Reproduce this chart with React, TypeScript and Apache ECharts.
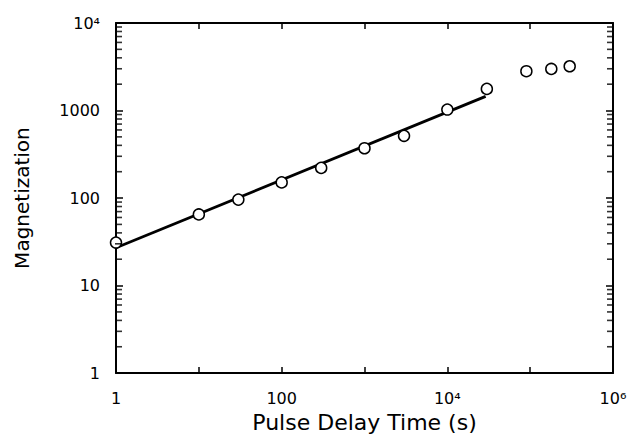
import React, { useEffect, useRef } from "react";
import * as echarts from "echarts";

const delayTime = [1, 10, 30, 100, 300, 1000, 3000, 10000, 30000, 90000, 180000, 300000];
const magnetization = [31, 65, 96, 151, 221, 371, 514, 1026, 1767, 2813, 2987, 3205];
const fitTime = [1, 29000];
const fitMagnetization = [27, 1450];

// minor tick positions of the logarithmic magnetization axis
const yMinorTicks = [
  2, 3, 4, 5, 6, 7, 8, 9,
  20, 30, 40, 50, 60, 70, 80, 90,
  200, 300, 400, 500, 600, 700, 800, 900,
  2000, 3000, 4000, 5000, 6000, 7000, 8000, 9000,
];

const xTitle = "Pulse Delay Time (s)";
const yTitle = "Magnetization";
const sup: Record<string, string> = { "4": "⁴", "6": "⁶" };

const FONT = "DejaVu Sans";
const X_MIN = 1;
const X_MAX = 1e6;

function fmtY(v: number): string {
  const e = Math.round(Math.log10(v));
  if (e >= 4) return "10" + (sup[String(e)] || e);
  return String(Math.round(Math.pow(10, e)));
}
function fmtX(v: number): string {
  const e = Math.round(Math.log10(v));
  if (e % 2 !== 0) return "";
  if (e >= 4) return "10" + (sup[String(e)] || e);
  return String(Math.round(Math.pow(10, e)));
}

export default function App() {
  const ref = useRef<HTMLDivElement>(null);
  useEffect(() => {
    if (!ref.current) return;
    const chart = echarts.init(ref.current, undefined, { renderer: "svg" });
    const axisLine = { show: true, lineStyle: { color: "#000", width: 2 } };
    const baseX = {
      type: "log" as const,
      logBase: 10,
      min: X_MIN,
      max: X_MAX,
      splitNumber: 6,
      axisLine,
      splitLine: { show: false },
      axisTick: { show: true, inside: true, length: 6, lineStyle: { color: "#000", width: 1.5 } },
    };
    const baseY = {
      type: "log" as const,
      logBase: 10,
      min: 1,
      max: 1e4,
      splitNumber: 4,
      axisLine,
      splitLine: { show: false },
      axisTick: { show: true, inside: true, length: 7, lineStyle: { color: "#000", width: 1.5 } },
    };
    const minorTickSeries = (xv: number, dir: number) => ({
      type: "scatter",
      data: yMinorTicks.map((v) => [xv, v]),
      symbol: "rect",
      symbolSize: [7, 1.6],
      symbolOffset: [2.5 * dir, 0],
      clip: false,
      silent: true,
      itemStyle: { color: "#000", borderWidth: 0 },
      emphasis: { disabled: true },
      z: 4,
    });
    chart.setOption({
      animation: false,
      backgroundColor: "#fff",
      grid: { left: 116, right: 19, top: 23, bottom: 60, containLabel: false },
      xAxis: [
        {
          ...baseX,
          position: "bottom",
          name: xTitle,
          nameLocation: "middle",
          nameGap: 37,
          nameTextStyle: { fontFamily: FONT, fontSize: 22, color: "#000" },
          axisLabel: {
            margin: 17,
            fontFamily: FONT,
            fontSize: 16,
            color: "#000",
            formatter: fmtX,
          },
        },
        {
          ...baseX,
          position: "top",
          axisLabel: { show: false },
        },
      ],
      yAxis: [
        {
          ...baseY,
          position: "left",
          name: yTitle,
          nameLocation: "middle",
          nameRotate: 90,
          nameGap: 84,
          nameTextStyle: { fontFamily: FONT, fontSize: 20, color: "#000" },
          axisLabel: {
            margin: 16,
            fontFamily: FONT,
            fontSize: 16,
            color: "#000",
            formatter: fmtY,
          },
        },
        {
          ...baseY,
          position: "right",
          axisLabel: { show: false },
        },
      ],
      series: [
        {
          type: "line",
          data: fitTime.map((t, i) => [t, fitMagnetization[i]]),
          showSymbol: false,
          symbol: "none",
          lineStyle: { color: "#000", width: 2.8 },
          z: 2,
        },
        {
          type: "scatter",
          data: delayTime.map((t, i) => [t, magnetization[i]]),
          symbol: "circle",
          symbolSize: 11,
          clip: false,
          itemStyle: { color: "#fff", borderColor: "#000", borderWidth: 1.5, opacity: 1 },
          z: 3,
        },
        minorTickSeries(X_MIN, 1),
        minorTickSeries(X_MAX, -1),
      ],
    });
    return () => chart.dispose();
  }, []);
  return <div ref={ref} style={{ width: 632, height: 438, position: "absolute", left: 0, top: 0 }} />;
}
